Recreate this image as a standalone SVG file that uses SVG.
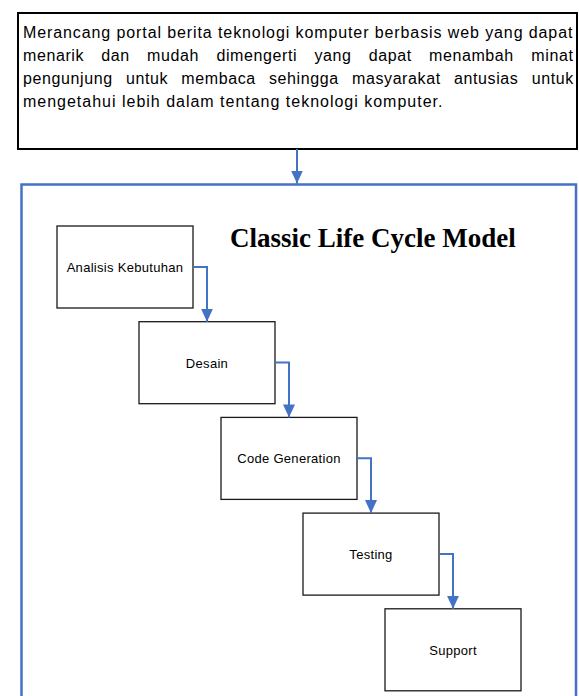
<svg xmlns="http://www.w3.org/2000/svg" width="579" height="696" viewBox="0 0 579 696">
  <style>
    .bg { fill: #ffffff; }
    .goal { fill: #ffffff; stroke: #000000; stroke-width: 2; }
    .frame { fill: none; stroke: #4472C4; stroke-width: 2.5; }
    .node { fill: #ffffff; stroke: #1a1a1a; stroke-width: 1.3; }
    .conn { fill: none; stroke: #4472C4; stroke-width: 2; }
    .body { font-family: "Liberation Sans", Arial, sans-serif; font-size: 16px; fill: #000000; letter-spacing: 0.6px; }
    .label { font-family: "Liberation Sans", Arial, sans-serif; font-size: 13px; fill: #000000; text-anchor: middle; letter-spacing: 0.3px; }
    .title { font-family: "Liberation Serif", "Times New Roman", serif; font-size: 27px; font-weight: bold; fill: #000000; }
  </style>
  <defs>
    <marker id="arrow" markerUnits="userSpaceOnUse" viewBox="0 0 13 12" refX="13" refY="6" markerWidth="13" markerHeight="12" orient="auto">
      <path d="M0,0 L13,6 L0,12 z" fill="#4472C4"/>
    </marker>
  </defs>
  <rect class="bg" x="0" y="0" width="579" height="696"/>

  <g id="goal">
    <rect class="goal" x="18" y="13" width="559" height="136"/>
    <text class="body" x="23" y="38" textLength="550" lengthAdjust="spacing">Merancang portal berita teknologi komputer berbasis web yang dapat</text>
    <text class="body" y="61"><tspan x="23">menarik</tspan><tspan x="101.3">dan</tspan><tspan x="147.1">mudah</tspan><tspan x="216.4">dimengerti</tspan><tspan x="314.4">yang</tspan><tspan x="368.7">dapat</tspan><tspan x="429">menambah</tspan><tspan x="531.3">minat</tspan></text>
    <text class="body" y="84"><tspan x="23">pengunjung</tspan><tspan x="125.9">untuk</tspan><tspan x="181.3">membaca</tspan><tspan x="269">sehingga</tspan><tspan x="352">masyarakat</tspan><tspan x="454">antusias</tspan><tspan x="531.7">untuk</tspan></text>
    <text class="body" x="23" y="107" textLength="420" lengthAdjust="spacing">mengetahui lebih dalam tentang teknologi komputer.</text>
  </g>

  <g id="model-frame">
    <rect class="frame" x="21.5" y="184.5" width="554.5" height="530"/>
    <text class="title" x="230" y="247">Classic Life Cycle Model</text>
  </g>

  <g id="analisis-kebutuhan">
    <rect class="node" x="57" y="226" width="136" height="82"/>
    <text class="label" x="125" y="272">Analisis Kebutuhan</text>
  </g>
  <g id="desain">
    <rect class="node" x="139" y="321.7" width="136" height="82"/>
    <text class="label" x="207" y="367.5">Desain</text>
  </g>
  <g id="code-generation">
    <rect class="node" x="221" y="417.4" width="136" height="82"/>
    <text class="label" x="289" y="463.2">Code Generation</text>
  </g>
  <g id="testing">
    <rect class="node" x="303" y="513.1" width="136" height="82"/>
    <text class="label" x="371" y="559">Testing</text>
  </g>
  <g id="support">
    <rect class="node" x="385" y="608.8" width="136" height="82"/>
    <text class="label" x="453" y="655">Support</text>
  </g>

  <g id="connectors">
    <path class="conn" d="M297,149 L297,183.5" marker-end="url(#arrow)"/>
    <path class="conn" d="M193,267 L207,267 L207,321.7" marker-end="url(#arrow)"/>
    <path class="conn" d="M275,362.5 L289,362.5 L289,417.4" marker-end="url(#arrow)"/>
    <path class="conn" d="M357,458.3 L371,458.3 L371,513.1" marker-end="url(#arrow)"/>
    <path class="conn" d="M439,554 L453,554 L453,608.8" marker-end="url(#arrow)"/>
  </g>
</svg>
